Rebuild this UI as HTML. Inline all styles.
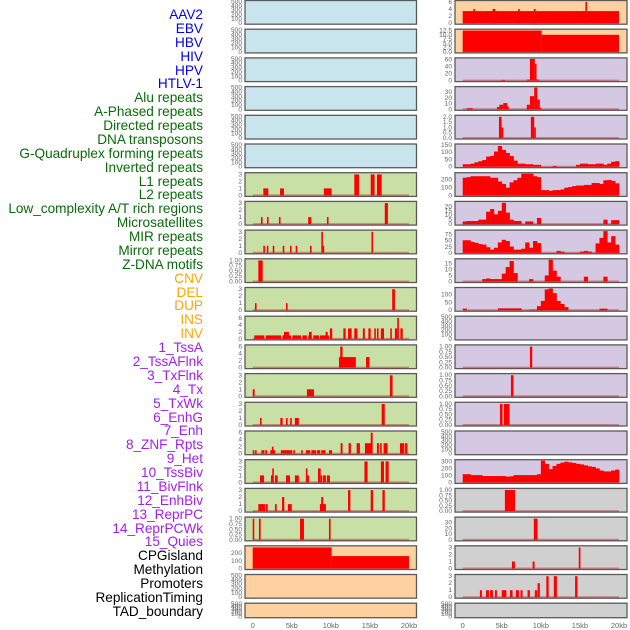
<!DOCTYPE html>
<html><head><meta charset="utf-8">
<style>
html,body{margin:0;padding:0;background:#fff;}
body{width:630px;height:630px;overflow:hidden;position:relative;font-family:"Liberation Sans",sans-serif;}
#labels{position:absolute;left:0;top:0;width:630px;height:630px;}
.lab{position:absolute;right:427px;font-size:13.6px;line-height:14px;white-space:nowrap;}
svg{position:absolute;left:0;top:0;}
</style></head>
<body>
<div id="labels"></div>
<svg id="chart" width="630" height="630"></svg>
<script>
// ---------- data ----------
const trackNames = ["AAV2","EBV","HBV","HIV","HPV","HTLV-1","Alu repeats","A-Phased repeats","Directed repeats","DNA transposons","G-Quadruplex forming repeats","Inverted repeats","L1 repeats","L2 repeats","Low_complexity A/T rich regions","Microsatellites","MIR repeats","Mirror repeats","Z-DNA motifs","CNV","DEL","DUP","INS","INV","1_TssA","2_TssAFlnk","3_TxFlnk","4_Tx","5_TxWk","6_EnhG","7_Enh","8_ZNF_Rpts","9_Het","10_TssBiv","11_BivFlnk","12_EnhBiv","13_ReprPC","14_ReprPCWk","15_Quies","CPGisland","Methylation","Promoters","ReplicationTiming","TAD_boundary"];
const trackGroups = ["v","v","v","v","v","v","r","r","r","r","r","r","r","r","r","r","r","r","r","s","s","s","s","s","c","c","c","c","c","c","c","c","c","c","c","c","c","c","c","o","o","o","o","o"];
const xTickLabels = ["0","5kb","10kb","15kb","20kb"];
const xTickValues = [0,5,10,15,20];

const ticks500 = ["0","100","200","300","400","500"];
const ticks3 = ["0","1","2","3"];
const ticks6 = ["0","2","4","6"];
const ticks01 = ["0.00","0.25","0.50","0.75","1.00"];

// left column bars: [startKb, endKb, value]
const L6_bars = [[1.36,2.0,1],[3.5,4.0,1],[9.1,10.1,1],[13.0,13.6,3],[15.1,15.6,3],[15.9,16.5,3]];
const L7_bars = [[1.06,1.25,1],[1.83,2.0,1],[3.36,3.55,1],[7.1,7.5,1],[9.5,9.7,1],[16.9,17.3,3]];
const L8_bars = [[1.36,1.5,1],[1.8,1.95,1],[2.56,2.77,1],[3.84,4.0,1],[4.77,4.95,1],[5.5,5.65,1],[7.33,7.5,1],[8.78,8.95,3],[8.95,9.1,1],[15.2,15.35,3]];
const L9_bars = [[0.72,1.28,1]];
const L10_bars = [[0.29,0.45,1],[4.26,4.42,1],[17.85,18.2,3]];
const L11_bars = [[0.2,1.49,1],[1.66,3.62,1],[3.8,4.9,1],[4.0,4.64,2],[5.07,6.18,1],[6.35,6.94,1],[7.1,7.55,1],[7.2,7.55,2],[7.75,8.48,1],[8.6,9.76,1],[9.33,9.6,2],[9.88,10.18,3],[11.6,11.9,3],[12.2,12.66,3],[13.0,13.4,3],[14.1,14.35,3],[14.8,15.1,3],[15.55,15.7,3],[15.9,16.1,3],[16.4,16.8,3],[17.6,17.8,3],[18.2,18.5,3],[18.5,18.7,6],[18.9,19.2,3]];
const L12_bars = [[11.04,13.2,3],[11.2,11.5,6],[14.5,14.95,3]];
const L13_bars = [[0,0.25,1],[6.94,7.84,1],[17.55,17.9,3]];
const L14_bars = [[0.93,1.14,1],[3.53,3.83,1],[4.26,4.47,1],[4.8,5.0,1],[5.4,5.9,1],[16.5,16.9,3]];
const L15_bars = [[0,0.17,1],[0.3,0.5,1],[1.1,1.5,1],[1.6,1.86,1],[2.24,2.88,1],[2.45,2.67,2],[3.6,5.07,1],[5.2,5.4,1],[6.2,6.4,1],[6.8,7.37,1],[7.5,8.1,1],[8.2,8.65,1],[8.78,9.33,1],[9.76,10.15,1],[11.25,11.5,3],[12.27,12.57,3],[13.3,13.72,3],[14.36,15.2,3],[15.1,15.35,6],[15.9,16.15,3],[16.3,16.5,3],[16.75,17.26,3],[18.84,19.4,3],[19.5,19.8,3]];
const L16_bars = [[0.93,1.45,1],[2.34,2.5,1],[2.5,2.68,2],[2.85,3.2,1],[4.26,4.77,1],[5.4,5.9,1],[6.8,7.0,2],[7.0,7.1,1],[8.35,8.7,2],[8.7,8.85,1],[9.0,9.37,1],[9.5,9.88,1],[14.3,14.7,3],[16.4,16.8,3],[17.0,17.4,3]];
const L17_bars = [[0.72,1.57,1],[1.66,1.92,1],[2.85,3.07,1],[3.75,4.04,2],[4.5,5.0,1],[8.6,9.37,1],[8.77,9.03,2],[12.2,12.5,3],[15.1,15.4,3],[16.6,16.9,3]];
const L18_bars = [[0,0.17,1],[0.8,1.02,1],[6.05,6.56,1],[9.76,9.97,1]];
const L19_bars = [[0,10.1,272],[10.1,20,160]];

// right column bars
const R0_bars = [[0,20,3.4],[1.36,1.53,4],[3.83,4.17,4],[7.1,7.28,4],[9.1,9.33,4],[15.7,15.85,6]];
const R1_bars = [[0,10.1,12.5],[10.1,20,10]];
const R2_bars = [[4.98,5.4,2],[8.17,8.6,3],[8.6,9.23,62],[9.23,9.45,48],[9.45,9.8,3]];
const R3_bars = [[0.55,1.27,2],[4.38,4.68,4],[4.68,5.19,8],[5.19,5.7,11],[5.7,5.83,5],[8.2,8.6,8],[8.6,9.15,23],[9.15,9.54,38],[9.54,9.87,17],[9.87,10.0,3]];
const R4_bars = [[4.64,4.98,2],[4.98,5.19,1],[8.72,9.15,2],[9.15,9.36,1]];
const R12_bars = [[8.6,8.9,1]];
const R13_bars = [[6.17,6.5,1]];
const R14_bars = [[4.76,5.1,1],[5.27,6.0,1]];
const R17_bars = [[5.4,6.7,1]];
const R18_bars = [[9.1,9.58,37]];
const R19_bars = [[6.3,6.68,1],[8.94,9.2,1],[14.85,15.07,3]];
const R20_bars = [[2.2,2.46,1],[2.98,3.36,1],[3.5,3.87,1],[4.13,4.38,1],[5.0,5.6,1],[6.04,6.38,1],[6.8,7.2,1],[7.4,7.66,1],[8.3,8.6,1],[9.23,9.53,1],[9.58,9.87,2],[10.7,11.0,3],[11.66,12.05,3],[14.38,14.69,3]];

// right column profiles: 40 bins of 0.5 kb
const R5_profile = [17,17,21,30,38,46,70,74,105,143,116,95,74,42,21,21,17,17,13,13,0,0,0,6,0,0,0,0,0,13,21,21,17,17,21,21,13,21,34,38];
const R6_profile = [224,231,243,243,243,243,243,224,224,176,145,98,165,192,224,275,275,275,243,231,67,67,59,67,67,75,98,106,118,125,125,133,133,157,157,145,192,196,184,153];
const R7_profile = [3,3.5,3.5,3.5,5,5,14,17,11,15,24,13,5,3.5,3.5,0,3,3,0,7,0,0,0,0,0,0,0,0,0,0,0,0,0,0,0,0,5,0,4.5,4.5];
const R8_profile = [52,52,45,41,36,34,23,13,21,43,54,49,26,13,13,17,43,21,49,40,0,0,0,0,8,5,0,0,0,0,5,8,5,0,39,62,90,43,69,34];
const R9_profile = [0,0,0,0,0,2,2.5,2,2,2,6.5,12,17,7,0,0,0,2,0,0,0,5,18,9,4,0,0,0,0,0,0,4,0,0,0,0,4,0,0,0];
const R10_profile = [10,0,0,0,0,0,0,0,0,12,12,12,12,12,12,0,0,4,4,26,60,134,140,110,60,40,20,0,0,0,0,0,0,0,0,10,10,0,0,0];
const R16_profile = [117,117,104,104,104,91,91,91,91,91,91,83,87,104,104,104,104,104,104,117,310,265,190,235,265,283,296,287,278,265,257,243,230,222,200,170,157,157,170,183];

// ---------- layout ----------
const BG = {b:"#c8e4ec", g:"#c8e0a6", p:"#ffd0a0", u:"#d5c8e2", k:"#d0d0d0"};
const COLS = {L:{left:245,right:416.5,x0:252.7,x20:409,tickX:242}, R:{left:455,right:627,x0:462.7,x20:619,tickX:452}};
const panels = [
 {c:"L",r:0,bg:"b",ym:500,t:ticks500},{c:"L",r:1,bg:"b",ym:500,t:ticks500},{c:"L",r:2,bg:"b",ym:500,t:ticks500},
 {c:"L",r:3,bg:"b",ym:500,t:ticks500},{c:"L",r:4,bg:"b",ym:500,t:ticks500},{c:"L",r:5,bg:"b",ym:500,t:ticks500},
 {c:"L",r:6,bg:"g",ym:3.1,t:ticks3,bars:L6_bars},{c:"L",r:7,bg:"g",ym:3.1,t:ticks3,bars:L7_bars},
 {c:"L",r:8,bg:"g",ym:3.1,t:ticks3,bars:L8_bars},{c:"L",r:9,bg:"g",ym:1.03,t:ticks01,bars:L9_bars},
 {c:"L",r:10,bg:"g",ym:3.1,t:ticks3,bars:L10_bars},{c:"L",r:11,bg:"g",ym:6.2,t:ticks6,bars:L11_bars},
 {c:"L",r:12,bg:"g",ym:6.2,t:ticks6,bars:L12_bars},{c:"L",r:13,bg:"g",ym:3.1,t:ticks3,bars:L13_bars},
 {c:"L",r:14,bg:"g",ym:3.1,t:ticks3,bars:L14_bars},{c:"L",r:15,bg:"g",ym:6.2,t:ticks6,bars:L15_bars},
 {c:"L",r:16,bg:"g",ym:3.1,t:ticks3,bars:L16_bars},{c:"L",r:17,bg:"g",ym:3.1,t:ticks3,bars:L17_bars},
 {c:"L",r:18,bg:"g",ym:1.03,t:ticks01,bars:L18_bars},{c:"L",r:19,bg:"p",ym:280,t:["0","100","200"],bars:L19_bars},
 {c:"L",r:20,bg:"p",ym:500,t:ticks500},{c:"L",r:21,bg:"p",ym:500,t:ticks500},
 {c:"R",r:0,bg:"p",ym:6.1,t:["0","2","4","6"],bars:R0_bars},{c:"R",r:1,bg:"p",ym:12.7,t:["0.0","2.5","5.0","7.5","10.0","12.5"],bars:R1_bars},
 {c:"R",r:2,bg:"u",ym:62,t:["0","20","40","60"],bars:R2_bars},{c:"R",r:3,bg:"u",ym:38,t:["0","10","20","30"],bars:R3_bars},
 {c:"R",r:4,bg:"u",ym:2.05,t:["0.0","0.5","1.0","1.5","2.0"],bars:R4_bars},{c:"R",r:5,bg:"u",ym:150,t:["0","50","100","150"],prof:R5_profile},
 {c:"R",r:6,bg:"u",ym:275,t:["0","100","200"],prof:R6_profile},{c:"R",r:7,bg:"u",ym:24.5,t:["0","5","10","15","20"],prof:R7_profile},
 {c:"R",r:8,bg:"u",ym:90,t:["0","25","50","75"],prof:R8_profile},{c:"R",r:9,bg:"u",ym:18,t:["0","5","10","15"],prof:R9_profile},
 {c:"R",r:10,bg:"u",ym:140,t:["0","50","100"],prof:R10_profile},{c:"R",r:11,bg:"u",ym:500,t:ticks500},
 {c:"R",r:12,bg:"u",ym:1.03,t:ticks01,bars:R12_bars},{c:"R",r:13,bg:"u",ym:1.03,t:ticks01,bars:R13_bars},
 {c:"R",r:14,bg:"u",ym:1.03,t:ticks01,bars:R14_bars},{c:"R",r:15,bg:"u",ym:500,t:ticks500},
 {c:"R",r:16,bg:"u",ym:310,t:["0","100","200","300"],prof:R16_profile},{c:"R",r:17,bg:"k",ym:1.03,t:ticks01,bars:R17_bars},
 {c:"R",r:18,bg:"k",ym:38,t:["0","10","20","30"],bars:R18_bars},{c:"R",r:19,bg:"k",ym:3.1,t:ticks3,bars:R19_bars},
 {c:"R",r:20,bg:"k",ym:3.1,t:ticks3,bars:R20_bars},{c:"R",r:21,bg:"k",ym:500,t:ticks500}
];

const NS = "http://www.w3.org/2000/svg";
const svg = document.getElementById("chart");
function mk(tag, attrs, parent){
  const e = document.createElementNS(NS, tag);
  for (const k in attrs) e.setAttribute(k, attrs[k]);
  (parent||svg).appendChild(e);
  return e;
}

// labels
const labelColors = {v:"#0000ee", r:"#0a6b0a", s:"#ffa500", c:"#a020f0", o:"#000000"};
const labDiv = document.getElementById("labels");
trackNames.forEach((n,i)=>{
  const d = document.createElement("div");
  d.className = "lab";
  d.textContent = n;
  d.style.color = labelColors[trackGroups[i]];
  d.style.top = (8 + i*13.88) + "px";
  
  
  labDiv.appendChild(d);
});

panels.forEach(p=>{
  const col = COLS[p.c];
  const top = p.r*28.7;
  const h = p.r===21 ? 15.5 : 24.7;
  const bottom = top + h;
  const xs = kb => col.x0 + kb*(col.x20-col.x0)/20;
  const ys = v => bottom - 1.5 - v/p.ym*(h-3);
  const g = mk("g", {});
  
  
  const bg = mk("rect", {x:col.left, y:top+0.5, width:col.right-col.left, height:h-1, fill:BG[p.bg], stroke:"#5a5a5a", "stroke-width":1.3}, g);
  
  
  p.t.forEach(s=>{
    const v = parseFloat(s);
    const tx = mk("text", {x:col.tickX, y:ys(v)+2, "text-anchor":"end", "font-size":"6.6", fill:"#666", "font-family":"Liberation Sans, sans-serif"}, g);
    tx.textContent = s;
    
    
  });
  const hasData = p.bars || p.prof;
  if (hasData) {
    const base = mk("line", {x1:xs(0), x2:xs(20), y1:ys(0), y2:ys(0), stroke:"rgba(170,40,40,0.45)", "stroke-width":2}, g);
    
    
  }
  if (p.bars) {
    p.bars.forEach(b=>{
      const x1 = xs(b[0]), x2 = xs(b[1]);
      const r = mk("rect", {x:x1, y:ys(b[2]), width:Math.max(x2-x1,1.6), height:ys(0)-ys(b[2]), fill:"#ff0000"}, g);
      
      
    });
  }
  if (p.prof) {
    const w = 20/p.prof.length;
    p.prof.forEach((v,i)=>{
      if (v<=0) return;
      const x1 = xs(i*w), x2 = xs((i+1)*w);
      const r = mk("rect", {x:x1, y:ys(v), width:x2-x1+0.3, height:ys(0)-ys(v), fill:"#ff0000"}, g);
      
      
    });
  }
});

// x axis labels
["L","R"].forEach(c=>{
  const col = COLS[c];
  xTickValues.forEach((v,i)=>{
    const t = mk("text", {x:col.x0 + v*(col.x20-col.x0)/20, y:628, "text-anchor":"middle", "font-size":"7.5", fill:"#666", "font-family":"Liberation Sans, sans-serif"});
    t.textContent = xTickLabels[i];
    
    
  });
});
</script>
</body></html>
